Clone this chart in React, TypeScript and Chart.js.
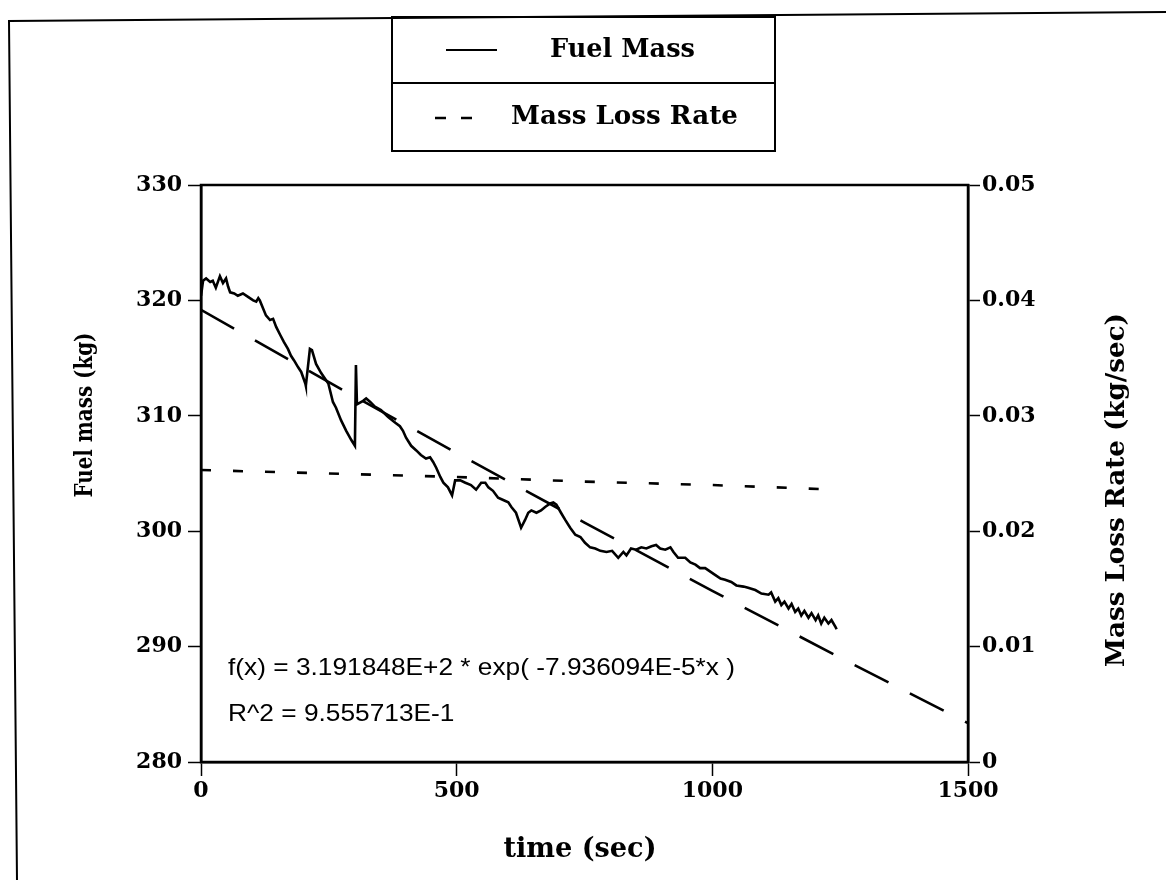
import React, { useEffect, useRef } from "react";
import { Chart, registerables } from "chart.js";

Chart.register(...registerables);

// ---------- data ----------
const timeSec = [
  0, 4, 10, 18, 23, 29, 37, 43, 49, 53,
  57, 65, 72, 82, 92, 102, 108, 112, 115, 127,
  135, 141, 147, 155, 162, 170, 176, 182, 190, 196,
  204, 205, 213, 217, 225, 235, 249, 258, 264, 274,
  284, 294, 301, 303, 305, 317, 323, 331, 340, 352,
  366, 380, 389, 395, 401, 411, 421, 430, 440, 448,
  454, 460, 468, 474, 483, 491, 497, 507, 517, 528,
  538, 548, 556, 562, 571, 581, 591, 601, 607, 616,
  626, 634, 640, 646, 656, 665, 673, 683, 689, 695,
  704, 712, 722, 732, 742, 751, 761, 771, 781, 793,
  804, 816, 826, 832, 841, 851, 861, 871, 881, 890,
  898, 908, 918, 924, 933, 947, 957, 967, 976, 986,
  996, 1006, 1016, 1025, 1037, 1047, 1061, 1070, 1084, 1096,
  1110, 1115, 1123, 1129, 1135, 1141, 1149, 1155, 1162, 1168,
  1174, 1180, 1188, 1194, 1202, 1207, 1213, 1219, 1227, 1233,
  1241, 1243,
];

const fuelMassKg = [
  320.4, 321.7, 321.9, 321.6, 321.7, 321.1, 322.1, 321.5, 321.9, 321.2,
  320.7, 320.6, 320.4, 320.6, 320.3, 320.0, 319.9, 320.2, 320.0, 318.7,
  318.3, 318.4, 317.7, 317.0, 316.4, 315.8, 315.2, 314.8, 314.2, 313.8,
  312.8, 312.6, 315.8, 315.7, 314.5, 313.7, 312.8, 311.2, 310.7, 309.6,
  308.7, 307.9, 307.4, 314.4, 311.0, 311.3, 311.5, 311.2, 310.8, 310.5,
  309.9, 309.4, 309.1, 308.7, 308.1, 307.4, 307.0, 306.6, 306.3, 306.4,
  306.0, 305.5, 304.7, 304.2, 303.8, 303.1, 304.4, 304.4, 304.2, 304.0,
  303.6, 304.2, 304.2, 303.8, 303.5, 302.9, 302.7, 302.5, 302.1, 301.6,
  300.3, 301.0, 301.6, 301.8, 301.6, 301.8, 302.1, 302.4, 302.5, 302.3,
  301.6, 301.0, 300.3, 299.7, 299.5, 299.0, 298.6, 298.5, 298.3, 298.2,
  298.3, 297.7, 298.2, 297.9, 298.5, 298.4, 298.6, 298.5, 298.7, 298.8,
  298.5, 298.4, 298.6, 298.2, 297.7, 297.7, 297.3, 297.1, 296.8, 296.8,
  296.5, 296.2, 295.9, 295.8, 295.6, 295.3, 295.2, 295.1, 294.9, 294.6,
  294.5, 294.7, 293.9, 294.2, 293.6, 293.9, 293.3, 293.7, 293.0, 293.3,
  292.7, 293.1, 292.5, 292.9, 292.3, 292.7, 292.0, 292.5, 292.0, 292.3,
  291.7, 291.5,
];

const fitTimeSec = [0, 250, 500, 750, 1000, 1250, 1500];
const fitMassKg = [319.18, 312.91, 306.77, 300.74, 294.83, 289.04, 283.37];

const rateTimeSec = [0, 250, 500, 750, 1000, 1245];
const massLossRate = [0.0253, 0.025, 0.0247, 0.0243, 0.024, 0.0236];

const xTicks = [0, 500, 1000, 1500];
const yLeftTicks = [280, 290, 300, 310, 320, 330];
const yRightTicks = [0, 0.01, 0.02, 0.03, 0.04, 0.05];

const legendLabels = ["Fuel Mass", "Mass Loss Rate"];
const xTitle = "time (sec)";
const yLeftTitle = "Fuel mass (kg)";
const yRightTitle = "Mass Loss Rate (kg/sec)";
const fitLabel = "f(x) = 3.191848E+2 * exp( -7.936094E-5*x )";
const r2Label = "R^2 = 9.555713E-1";

// ---------- styling ----------
const SERIF = '"DejaVu Serif", serif';
const SANS = '"Liberation Sans", Arial, sans-serif';

function fittedFont(ctx: CanvasRenderingContext2D, text: string, weight: string, family: string, target: number) {
  ctx.font = `${weight} 40px ${family}`;
  const w = ctx.measureText(text).width;
  const size = (40 * target) / w;
  return `${weight} ${size.toFixed(2)}px ${family}`;
}

export default function App() {
  const ref = useRef<HTMLCanvasElement>(null);

  useEffect(() => {
    document.body.style.margin = "0";
    const canvas = ref.current!;

    const overlay = {
      id: "overlay",
      beforeDraw(chart: any) {
        const c = chart.ctx;
        c.save();
        c.fillStyle = "#fff";
        c.fillRect(0, 0, chart.width, chart.height);
        c.restore();
      },
      afterDraw(chart: any) {
        const c: CanvasRenderingContext2D = chart.ctx;
        const a = chart.chartArea;
        c.save();
        c.strokeStyle = "#000";
        c.fillStyle = "#000";

        // plot frame
        c.lineWidth = 2.5;
        c.strokeRect(a.left, a.top, a.right - a.left, a.bottom - a.top);

        // outer page frame
        c.lineWidth = 2;
        c.beginPath();
        c.moveTo(1166, 12);
        c.lineTo(9, 21);
        c.lineTo(17, 880);
        c.stroke();

        // legend box
        c.lineWidth = 2;
        c.strokeRect(392, 17, 383, 134);
        c.beginPath();
        c.moveTo(392, 83);
        c.lineTo(775, 83);
        c.stroke();

        // legend samples
        c.lineWidth = 2;
        c.beginPath();
        c.moveTo(446, 50);
        c.lineTo(497, 50);
        c.stroke();
        c.lineWidth = 2.5;
        c.beginPath();
        c.moveTo(435, 118);
        c.lineTo(446, 118);
        c.moveTo(461, 118);
        c.lineTo(472, 118);
        c.stroke();

        c.textBaseline = "middle";
        c.textAlign = "left";
        c.font = fittedFont(c, legendLabels[0], "bold", SERIF, 145);
        c.fillText(legendLabels[0], 550, 50);
        c.font = fittedFont(c, legendLabels[1], "bold", SERIF, 227);
        c.fillText(legendLabels[1], 511, 117);

        // axis titles
        c.textAlign = "center";
        c.font = fittedFont(c, xTitle, "bold", SERIF, 153);
        c.fillText(xTitle, 580, 850);

        // left title: same glyph height as the right one, condensed along its length
        c.save();
        c.translate(86, 415);
        c.rotate(-Math.PI / 2);
        c.font = `bold 24px ${SERIF}`;
        const lw = c.measureText(yLeftTitle).width;
        c.scale(165 / lw, 1);
        c.fillText(yLeftTitle, 0, 0);
        c.restore();

        c.save();
        c.translate(1117, 490);
        c.rotate(-Math.PI / 2);
        c.font = fittedFont(c, yRightTitle, "bold", SERIF, 354);
        c.fillText(yRightTitle, 0, 0);
        c.restore();

        // fit annotation
        c.textAlign = "left";
        c.font = `24px ${SANS}`;
        const w = c.measureText(fitLabel).width;
        const sx = 507 / w;
        c.save();
        c.translate(a.left + 27, 668);
        c.scale(sx, 1);
        c.fillText(fitLabel, 0, 0);
        c.restore();
        c.save();
        c.translate(a.left + 27, 714);
        c.scale(sx, 1);
        c.fillText(r2Label, 0, 0);
        c.restore();

        c.restore();
      },
    };

    const tickFont = { family: "DejaVu Serif", size: 22, weight: "bold" as const };

    const chart = new Chart(canvas, {
      type: "line",
      data: {
        datasets: [
          {
            label: legendLabels[0],
            data: timeSec.map((t, i) => ({ x: t, y: fuelMassKg[i] })),
            yAxisID: "y",
            borderColor: "#000",
            borderWidth: 2.6,
            pointRadius: 0,
            tension: 0,
            fill: false,
          },
          {
            label: "fit",
            data: fitTimeSec.map((t, i) => ({ x: t, y: fitMassKg[i] })),
            yAxisID: "y",
            borderColor: "#000",
            borderWidth: 2.6,
            borderDash: [38, 24],
            pointRadius: 0,
            tension: 0,
            fill: false,
          },
          {
            label: legendLabels[1],
            data: rateTimeSec.map((t, i) => ({ x: t, y: massLossRate[i] })),
            yAxisID: "y2",
            borderColor: "#000",
            borderWidth: 2.6,
            borderDash: [10, 22],
            pointRadius: 0,
            tension: 0,
            fill: false,
          },
        ],
      },
      options: {
        animation: false,
        responsive: false,
        devicePixelRatio: 1,
        layout: { padding: { top: 185, left: 0, right: 0, bottom: 0 } },
        plugins: { legend: { display: false }, tooltip: { enabled: false } },
        scales: {
          x: {
            type: "linear",
            min: 0,
            max: 1500,
            afterFit(s: any) {
              s.height = 118;
            },
            afterBuildTicks(s: any) {
              s.ticks = xTicks.map((value) => ({ value }));
            },
            ticks: { font: tickFont, color: "#000", padding: 2, callback: (v: any) => String(v), maxRotation: 0 },
            grid: { drawOnChartArea: false, drawTicks: true, tickLength: 14, tickColor: "#000", tickWidth: 1.5 },
            border: { display: true, color: "#000", width: 2.5 },
          },
          y: {
            type: "linear",
            position: "left",
            min: 280,
            max: 330,
            afterFit(s: any) {
              s.width = 201;
            },
            afterBuildTicks(s: any) {
              s.ticks = yLeftTicks.map((value) => ({ value }));
            },
            ticks: { font: tickFont, color: "#000", padding: 6, callback: (v: any) => String(v) },
            grid: { drawOnChartArea: false, drawTicks: true, tickLength: 13, tickColor: "#000", tickWidth: 1.5 },
            border: { display: true, color: "#000", width: 2.5 },
          },
          y2: {
            type: "linear",
            position: "right",
            min: 0,
            max: 0.05,
            afterFit(s: any) {
              s.width = 198;
            },
            afterBuildTicks(s: any) {
              s.ticks = yRightTicks.map((value) => ({ value }));
            },
            ticks: {
              font: tickFont,
              color: "#000",
              padding: 2,
              callback: (v: any) => (Number(v) === 0 ? "0" : Number(v).toFixed(2)),
            },
            grid: { drawOnChartArea: false, drawTicks: true, tickLength: 12, tickColor: "#000", tickWidth: 1.5 },
            border: { display: true, color: "#000", width: 2.5 },
          },
        },
      },
      plugins: [overlay],
    });

    return () => chart.destroy();
  }, []);

  return (
    <div style={{ position: "absolute", left: 0, top: 0, width: 1166, height: 880, background: "#fff" }}>
      <canvas ref={ref} width={1166} height={880} style={{ display: "block", width: 1166, height: 880 }} />
    </div>
  );
}
